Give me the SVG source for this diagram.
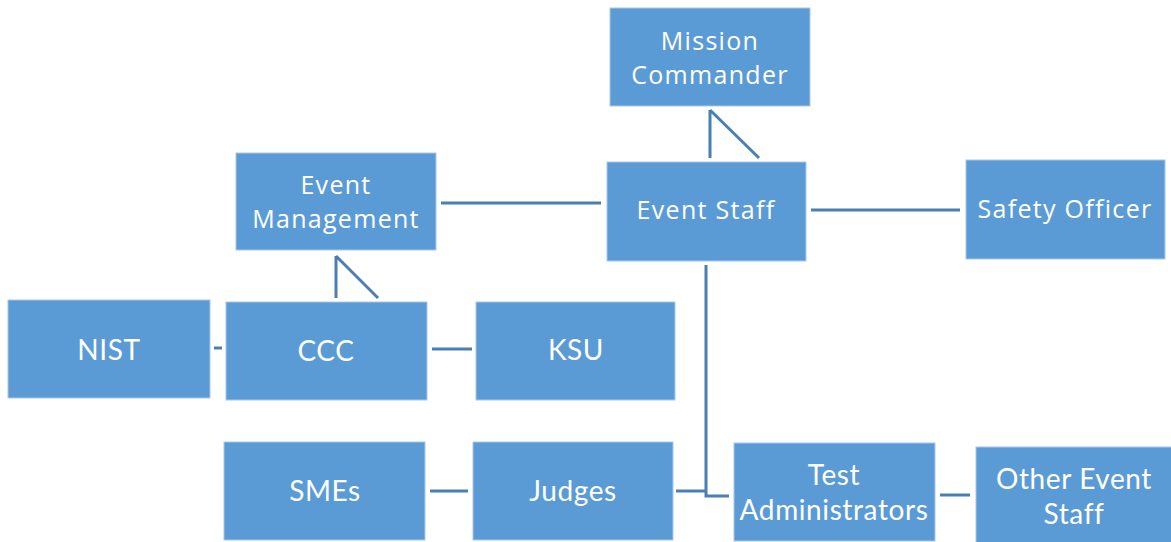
<svg xmlns="http://www.w3.org/2000/svg" width="1171" height="542" viewBox="0 0 1171 542">
<style>
.box{fill:#5b9bd5;stroke:#a9c8ea;stroke-width:1}
.t1{font-family:"Open Sans","Noto Sans",sans-serif;font-size:25px;letter-spacing:1.3px;fill:#ffffff;text-anchor:middle}
.t2{font-family:Lato,"Liberation Sans",sans-serif;font-size:28px;letter-spacing:0.6px;fill:#ffffff;text-anchor:middle}
.c{stroke:#4a7fb4;stroke-width:3;fill:none}
</style>
<rect width="1171" height="542" fill="#ffffff"/>
<g id="connectors">
<path class="c" d="M710 110 V158 M710 110 L759 158"/>
<path class="c" d="M336 256 V298 M336 256 L378 298"/>
<path class="c" d="M441 203 H601"/>
<path class="c" d="M811 210 H960"/>
<path class="c" d="M214 348 H222"/>
<path class="c" d="M432 349 H472"/>
<path class="c" d="M706 265 V496 H729"/>
<path class="c" d="M676 491 H706"/>
<path class="c" d="M430 491 H468"/>
<path class="c" d="M940 495 H970"/>
</g>
<g id="mission-commander"><rect class="box" x="610" y="8" width="200" height="98"/><text class="t1" x="710" y="50">Mission</text><text class="t1" x="710" y="84">Commander</text></g>
<g id="event-staff"><rect class="box" x="607" y="162" width="199" height="99"/><text class="t1" x="706" y="219">Event Staff</text></g>
<g id="event-management"><rect class="box" x="236" y="153" width="200" height="97"/><text class="t1" x="336" y="194">Event</text><text class="t1" x="336" y="228">Management</text></g>
<g id="safety-officer"><rect class="box" x="966" y="160" width="199" height="99"/><text class="t1" x="1065" y="218">Safety Officer</text></g>
<g id="nist"><rect class="box" x="8" y="300" width="202" height="98"/><text class="t2" x="109" y="360">NIST</text></g>
<g id="ccc"><rect class="box" x="226" y="302" width="201" height="98"/><text class="t2" x="326" y="361">CCC</text></g>
<g id="ksu"><rect class="box" x="476" y="302" width="199" height="98"/><text class="t2" x="576" y="360">KSU</text></g>
<g id="smes"><rect class="box" x="224" y="442" width="201" height="98"/><text class="t2" x="325" y="501">SMEs</text></g>
<g id="judges"><rect class="box" x="473" y="442" width="200" height="98"/><text class="t2" x="573" y="501">Judges</text></g>
<g id="test-administrators"><rect class="box" x="734" y="443" width="201" height="98"/><text class="t2" x="834" y="485">Test</text><text class="t2" x="834" y="520">Administrators</text></g>
<g id="other-event-staff"><rect class="box" x="976" y="447" width="196" height="97"/><text class="t2" x="1074" y="489">Other Event</text><text class="t2" x="1074" y="524">Staff</text></g>
</svg>
